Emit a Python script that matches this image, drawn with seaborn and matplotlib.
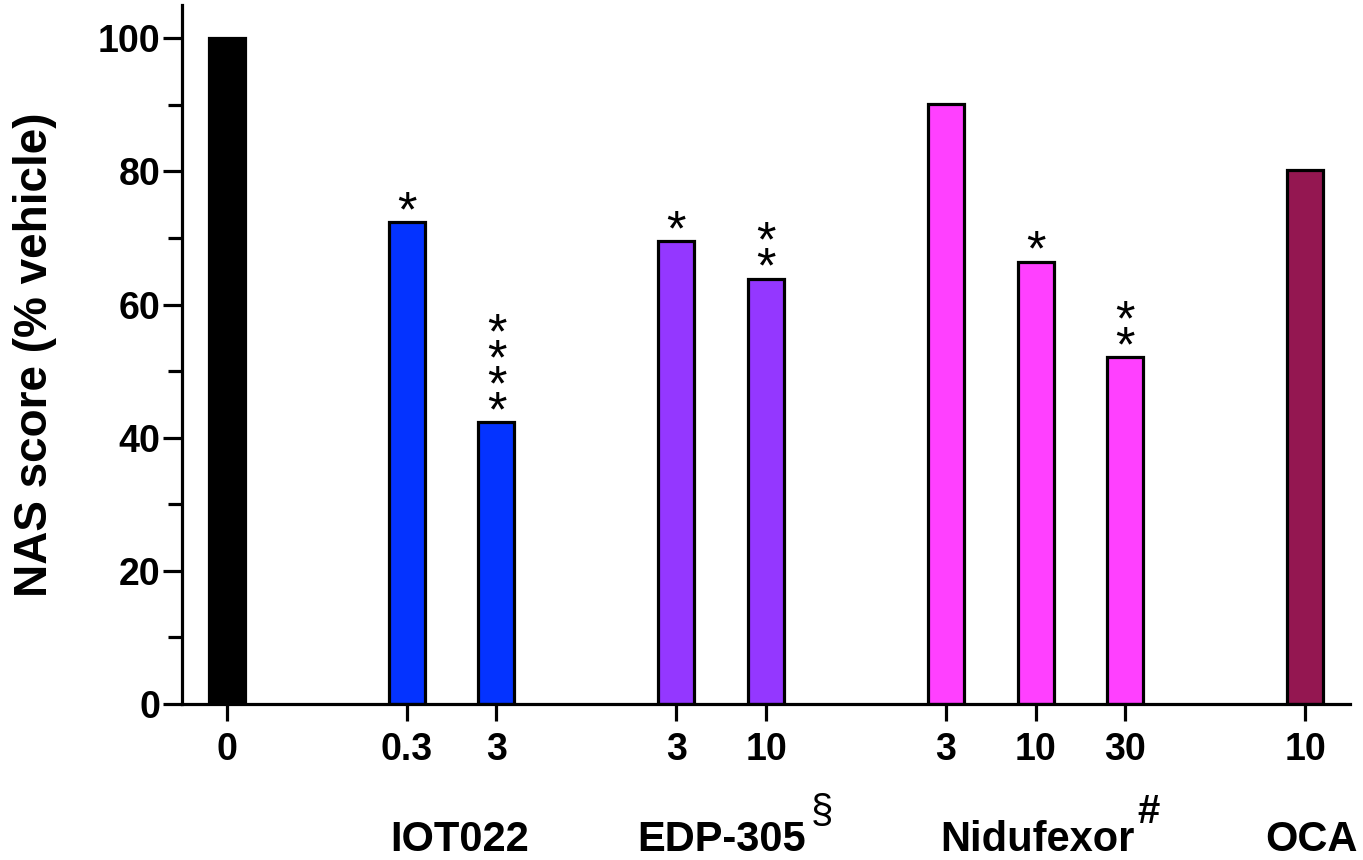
import numpy as np
import pandas as pd
import matplotlib
matplotlib.use('Agg')
import matplotlib.pyplot as plt
import seaborn as sns

# data
groups = ['Vehicle', 'IOT022', 'IOT022', 'EDP-305', 'EDP-305',
          'Nidufexor', 'Nidufexor', 'Nidufexor', 'OCA']
doses = ['0', '0.3', '3', '3', '10', '3', '10', '30', '10']
positions = [0, 2, 3, 5, 6, 8, 9, 10, 12]
nas_score = [100, 72.4, 42.3, 69.5, 63.9, 90.2, 66.4, 52.1, 80.2]
stars = [0, 1, 4, 1, 2, 0, 1, 2, 0]

group_colors = {'Vehicle': '#000000', 'IOT022': '#0433FF', 'EDP-305': '#9437FF',
                'Nidufexor': '#FF40FF', 'OCA': '#941751'}

df = pd.DataFrame({'group': groups, 'pos': positions, 'score': nas_score})

sns.set_style('ticks')
plt.rcParams['font.family'] = ['Liberation Sans', 'DejaVu Sans']
plt.rcParams['text.color'] = 'black'
plt.rcParams['axes.labelcolor'] = 'black'
plt.rcParams['xtick.color'] = 'black'
plt.rcParams['ytick.color'] = 'black'
plt.rcParams['axes.edgecolor'] = 'black'

fig = plt.figure(figsize=(13.63, 8.6), dpi=100)
ax = fig.add_axes([182/1363, 1 - 704/860, 1168/1363, 699/860])

sns.barplot(data=df, x='pos', y='score', hue='group', palette=group_colors,
            native_scale=True, width=0.4, dodge=False, legend=False, saturation=1,
            edgecolor='black', linewidth=2.3, ax=ax)

ax.set_xlim(-0.5, 12.5)
ax.set_ylim(0, 105)
ax.set_xticks(positions)
ax.set_xticklabels(doses, fontsize=27, fontweight='bold')
ax.set_yticks(range(0, 101, 20))
ax.set_yticks(range(10, 100, 20), minor=True)
ax.set_yticklabels([str(v) for v in range(0, 101, 20)], fontsize=27, fontweight='bold')
ax.tick_params(axis='y', which='major', length=14, width=2.3, pad=1.5)
ax.tick_params(axis='y', which='minor', length=10, width=2.3)
ax.tick_params(axis='x', which='major', length=12, width=2.3, pad=8)
for s in ['left', 'bottom']:
    ax.spines[s].set_linewidth(2.3)
sns.despine(ax=ax)

ax.set_xlabel('')
ax.set_ylabel('NAS score (% vehicle)', fontsize=33, fontweight='bold', va='center')
ax.yaxis.set_label_coords(-0.126, 0.5)

# significance stars stacked above bars
for x, v, n in zip(positions, nas_score, stars):
    if n:
        ax.annotate('\n'.join(['*'] * n), (x, v), xytext=(0, -10), textcoords='offset points',
                    ha='center', va='bottom', fontsize=36, linespacing=0.44)

# group labels under the dose labels
tr = ax.get_xaxis_transform()
label_y = -0.195
sup_y = -0.1545
ax.text(2.59, label_y, 'IOT022', transform=tr, ha='center', va='center',
        fontsize=30, fontweight='bold')
ax.text(5.51, label_y, 'EDP-305', transform=tr, ha='center', va='center',
        fontsize=30, fontweight='bold')
ax.text(6.62, sup_y, '§', transform=tr, ha='center', va='center', fontsize=29)
ax.text(9.02, label_y, 'Nidufexor', transform=tr, ha='center', va='center',
        fontsize=30, fontweight='bold')
ax.text(10.26, sup_y, '#', transform=tr, ha='center', va='center', fontsize=29,
        fontweight='bold')
ax.text(12.07, label_y, 'OCA', transform=tr, ha='center', va='center',
        fontsize=30, fontweight='bold')

fig.savefig('out.png', dpi=100)
